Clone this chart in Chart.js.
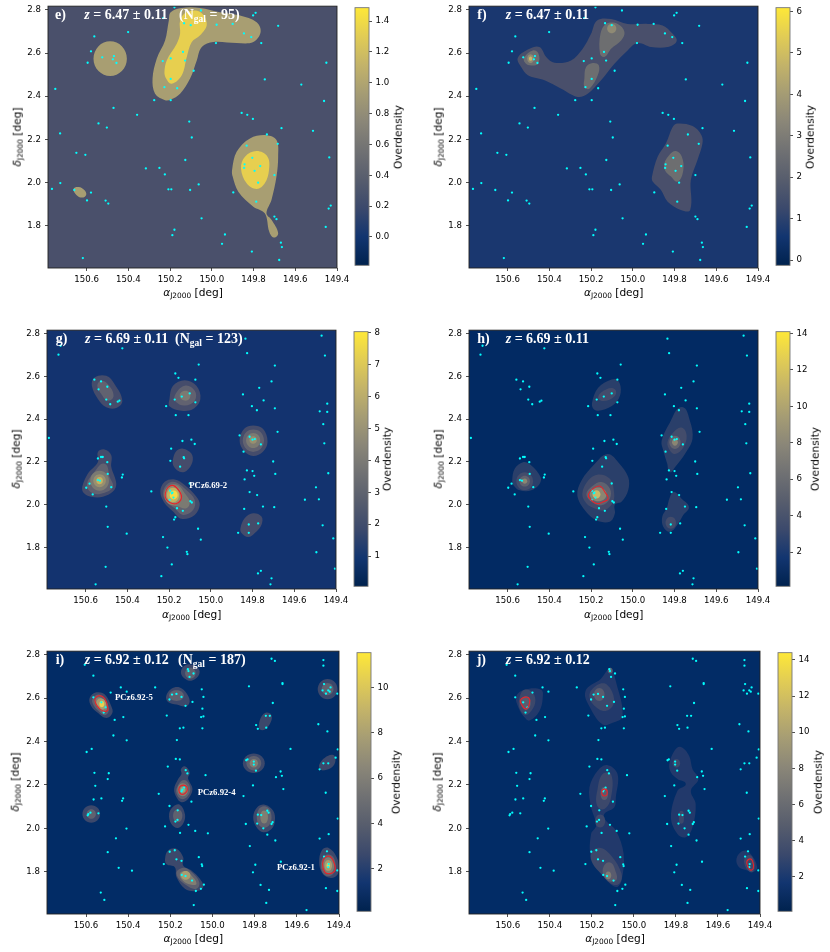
<!DOCTYPE html>
<html>
<head>
<meta charset="utf-8">
<title>Overdensity maps</title>
<script src="https://cdn.jsdelivr.net/npm/chart.js@4"></script>
<style>
  html, body { margin: 0; padding: 0; background: #fff; }
  #page { position: relative; width: 830px; height: 952px; overflow: hidden; }
  canvas { position: absolute; filter: blur(0.3px); }
  .t { position: absolute; white-space: nowrap; line-height: 1; }
  .ax { font-family: "DejaVu Sans", sans-serif; font-size: 10.6px; color: #000; transform: translate(-50%, -50%); }
  .ax sub { font-size: 7.4px; vertical-align: -2px; line-height: 0; }
  .rot { transform: translate(-50%, -50%) rotate(-90deg); }
  .head { font-family: "Liberation Serif", serif; font-weight: bold; font-size: 14px; color: #fff; transform: translateY(-50%); }
  .head sub { font-size: 9.5px; vertical-align: -3px; line-height: 0; }
  .pc { font-family: "Liberation Serif", serif; font-weight: bold; font-size: 8.7px; color: #fff; transform: translateY(-50%); }
</style>
</head>
<body>
<div id="page"></div>
<script>
// axes
const xTicks = [150.6, 150.4, 150.2, 150.0, 149.8, 149.6, 149.4];
const yTicks = [1.8, 2.0, 2.2, 2.4, 2.6, 2.8];
const xRange = [149.4, 150.785];
const yRange = [1.605, 2.817];

// galaxies [ra, dec], one list per redshift slice
const gal647 = [[150.766,1.971],[150.726,1.998],[150.727,2.228],[150.750,2.434],[150.649,2.138],[150.606,2.129],[150.659,1.966],[150.598,1.918],[150.579,1.954],[150.618,1.651],[150.509,1.917],[150.496,1.903],[150.543,2.274],[150.503,2.255],[150.471,2.346],[150.358,2.314],[150.401,2.697],[150.563,2.677],[150.579,2.608],[150.595,2.555],[150.525,2.580],[150.469,2.586],[150.474,2.571],[150.457,2.554],[150.316,2.066],[150.251,2.068],[150.225,2.038],[150.208,1.969],[150.194,1.969],[150.276,2.382],[150.197,2.382],[150.227,2.442],[150.235,2.563],[150.197,2.575],[150.197,2.480],[150.166,2.437],[150.138,2.605],[150.128,2.565],[150.087,2.518],[150.133,2.738],[150.101,2.729],[150.052,2.797],[150.179,2.812],[150.233,2.762],[149.977,2.731],[149.980,2.646],[149.900,2.735],[149.846,2.691],[149.811,2.674],[149.802,2.774],[149.790,2.786],[149.763,2.646],[149.682,2.726],[149.746,2.478],[149.571,2.454],[149.462,2.378],[149.451,2.555],[149.515,2.240],[149.666,2.252],[149.857,2.323],[149.830,2.314],[149.803,2.295],[150.108,2.283],[150.096,2.209],[150.127,2.105],[150.063,1.992],[150.104,1.966],[150.049,1.835],[150.179,1.782],[150.189,1.757],[149.951,1.717],[149.937,1.760],[149.808,1.681],[149.677,1.642],[149.669,1.722],[149.664,1.702],[149.700,1.843],[149.690,1.831],[149.454,1.795],[149.440,1.880],[149.430,1.894],[149.437,2.117],[149.736,2.223],[149.684,2.180],[149.833,2.171],[149.806,2.115],[149.843,2.085],[149.845,2.068],[149.768,2.077],[149.795,2.055],[149.700,2.035],[149.778,2.000],[149.897,1.955],[149.787,1.912]];

const gal669 = [[150.776,2.312],[150.730,2.702],[150.552,1.627],[150.504,1.709],[150.424,2.732],[149.834,2.777],[149.469,2.791],[149.453,2.698],[149.826,2.709],[150.058,2.656],[150.170,2.614],[150.155,2.594],[150.074,2.585],[149.693,2.651],[149.709,2.577],[149.768,2.547],[149.846,2.516],[149.747,2.488],[149.803,2.461],[149.779,2.442],[149.693,2.451],[149.442,2.473],[149.478,2.437],[149.442,2.434],[149.461,2.377],[149.680,2.341],[149.862,2.324],[149.814,2.318],[149.800,2.304],[149.789,2.307],[149.760,2.282],[149.843,2.248],[149.456,2.287],[149.701,2.202],[149.691,2.144],[149.827,2.160],[149.800,2.157],[149.792,2.135],[149.838,2.118],[149.437,2.147],[149.496,2.081],[149.549,2.023],[149.482,2.025],[149.814,2.059],[149.778,2.045],[149.750,1.991],[149.696,1.988],[149.840,1.980],[149.773,1.912],[149.818,1.907],[149.818,1.868],[149.869,1.868],[149.464,1.903],[149.413,1.842],[149.494,1.777],[149.405,1.700],[149.760,1.690],[149.774,1.678],[149.709,1.655],[149.714,1.627],[150.558,2.585],[150.526,2.577],[150.538,2.540],[150.496,2.552],[150.501,2.492],[150.438,2.487],[150.446,2.482],[150.482,2.470],[150.214,2.461],[150.173,2.492],[150.139,2.506],[150.101,2.521],[150.074,2.479],[150.168,2.419],[150.107,2.419],[150.136,2.298],[150.093,2.304],[150.077,2.284],[150.190,2.262],[150.194,2.205],[150.130,2.222],[150.128,2.217],[150.147,2.178],[150.541,2.216],[150.526,2.223],[150.518,2.223],[150.496,2.199],[150.541,2.115],[150.531,2.112],[150.581,2.098],[150.597,2.079],[150.566,2.048],[150.494,2.144],[150.477,2.082],[150.422,2.141],[150.426,2.127],[150.285,2.062],[150.195,2.065],[150.184,2.056],[150.187,2.053],[150.179,2.033],[150.197,2.022],[150.162,1.983],[150.134,1.971],[150.098,2.016],[150.091,2.010],[150.170,1.941],[150.176,1.930],[150.061,1.887],[150.048,1.836],[150.229,1.848],[150.208,1.799],[150.187,1.720],[150.237,1.665],[150.115,1.779],[150.112,1.768],[150.501,1.991],[150.494,1.896],[150.403,1.864],[150.101,2.099],[150.720,2.744]];

const gal692 = [[150.565,2.704],[150.565,2.604],[150.527,2.581],[150.507,2.558],[150.516,2.534],[150.483,2.626],[150.435,2.650],[150.407,2.630],[150.423,2.513],[150.464,2.500],[150.470,2.428],[150.407,2.406],[150.597,2.352],[150.573,2.366],[150.560,2.256],[150.556,2.196],[150.564,2.133],[150.527,2.138],[150.492,2.254],[150.497,2.227],[150.255,2.159],[150.424,2.138],[150.429,2.127],[150.589,2.066],[150.579,2.072],[150.592,2.060],[150.541,2.069],[150.408,1.999],[150.458,1.954],[150.497,1.890],[150.445,1.818],[150.382,1.805],[150.530,1.704],[150.513,1.670],[150.272,2.650],[150.117,2.734],[150.114,2.725],[150.090,2.714],[150.109,2.698],[150.051,2.641],[150.043,2.606],[150.095,2.583],[150.204,2.594],[150.192,2.617],[150.171,2.620],[150.147,2.606],[150.128,2.565],[150.048,2.552],[150.043,2.516],[150.054,2.513],[150.217,2.520],[150.155,2.461],[150.138,2.464],[150.048,2.461],[150.169,2.407],[150.174,2.320],[150.155,2.318],[150.212,2.285],[150.127,2.268],[150.119,2.253],[150.033,2.245],[150.135,2.188],[150.143,2.178],[150.147,2.170],[150.100,2.123],[150.204,2.103],[150.165,2.083],[150.166,2.039],[150.176,2.031],[150.225,2.009],[150.154,1.979],[150.114,2.016],[150.082,1.988],[150.022,1.977],[150.065,1.867],[150.051,1.834],[150.049,1.826],[150.231,1.835],[150.203,1.892],[150.179,1.899],[150.171,1.857],[150.147,1.850],[150.146,1.785],[150.128,1.780],[150.097,1.759],[150.079,1.711],[150.055,1.721],[150.041,1.740],[150.089,1.646],[149.827,2.655],[149.668,2.665],[149.668,2.670],[149.714,2.578],[149.747,2.519],[149.728,2.519],[149.793,2.476],[149.785,2.459],[149.745,2.464],[149.498,2.480],[149.455,2.447],[149.840,2.314],[149.834,2.318],[149.804,2.308],[149.804,2.294],[149.794,2.266],[149.853,2.149],[149.677,2.262],[149.671,2.242],[149.699,2.236],[149.664,2.181],[149.630,2.366],[149.808,2.198],[149.406,2.364],[149.416,2.326],[149.492,2.272],[149.451,2.300],[149.474,2.300],[149.463,2.164],[149.769,2.061],[149.740,2.081],[149.734,2.072],[149.785,2.063],[149.788,2.022],[149.759,2.000],[149.720,2.020],[149.715,2.028],[149.740,1.971],[149.842,2.020],[149.702,1.944],[149.823,1.918],[149.797,1.832],[149.808,1.797],[149.772,1.739],[149.732,1.716],[149.745,1.656],[149.676,1.846],[149.492,1.953],[149.449,1.973],[149.457,1.894],[149.471,1.870],[149.449,1.835],[149.451,1.821],[149.408,1.806],[149.462,1.724],[149.408,1.711],[149.554,1.623],[149.406,2.045],[149.471,2.665],[149.440,2.650],[149.451,2.636],[149.478,2.636],[149.462,2.621],[149.444,2.630],[149.408,2.621],[149.474,2.776],[149.474,2.750],[149.720,2.782],[149.704,2.772],[150.606,2.754]];

// contours [level, outline in ra/dec]
const contE = [
  [1, [[150.224,2.382],[150.272,2.412],[150.284,2.482],[150.264,2.574],[150.224,2.658],[150.206,2.751],[150.197,2.789],[150.144,2.809],[150.056,2.809],[149.961,2.789],[149.865,2.774],[149.785,2.743],[149.766,2.697],[149.801,2.651],[149.881,2.646],[149.993,2.651],[150.048,2.628],[150.072,2.566],[150.104,2.482],[150.152,2.412],[150.197,2.385]]],
  [2, [[150.227,2.512],[150.216,2.566],[150.168,2.643],[150.152,2.689],[150.152,2.751],[150.120,2.790],[150.056,2.790],[150.024,2.735],[150.056,2.682],[150.096,2.651],[150.120,2.582],[150.144,2.497],[150.192,2.458],[150.219,2.482]]],
  [1, [[150.487,2.654],[150.431,2.631],[150.407,2.574],[150.431,2.517],[150.487,2.494],[150.543,2.517],[150.567,2.574],[150.543,2.631]]],
  [1, [[150.662,1.972],[150.638,1.980],[150.611,1.966],[150.602,1.943],[150.622,1.931],[150.649,1.943]]],
  [1, [[149.903,2.058],[149.881,2.143],[149.817,2.205],[149.738,2.220],[149.690,2.197],[149.682,2.120],[149.690,2.028],[149.714,1.920],[149.738,1.858],[149.714,1.828],[149.682,1.766],[149.703,1.746],[149.725,1.774],[149.746,1.858],[149.801,1.889],[149.873,1.958],[149.900,2.028]]],
  [2, [[149.860,2.066],[149.841,2.120],[149.785,2.146],[149.733,2.120],[149.726,2.058],[149.746,1.997],[149.785,1.971],[149.833,1.997]]]
];
const contF = [
  [1, [[150.551,2.578],[150.495,2.620],[150.447,2.628],[150.415,2.582],[150.375,2.555],[150.296,2.566],[150.240,2.620],[150.200,2.689],[150.171,2.751],[150.104,2.758],[150.025,2.735],[149.929,2.735],[149.857,2.728],[149.809,2.689],[149.790,2.655],[149.833,2.628],[149.913,2.628],[149.977,2.646],[150.025,2.612],[150.088,2.551],[150.152,2.474],[150.216,2.412],[150.264,2.397],[150.343,2.435],[150.423,2.474],[150.503,2.497],[150.535,2.535]]],
  [1, [[149.908,2.028],[149.881,2.120],[149.841,2.182],[149.809,2.258],[149.785,2.274],[149.713,2.262],[149.671,2.220],[149.666,2.182],[149.690,2.105],[149.722,2.012],[149.725,1.874],[149.770,1.874],[149.833,1.912],[149.865,1.966],[149.905,2.005]]],
  [2, [[150.519,2.582],[150.479,2.612],[150.452,2.597],[150.455,2.551],[150.495,2.543],[150.519,2.558]]],
  [3, [[150.506,2.574],[150.490,2.594],[150.474,2.574],[150.490,2.554]]],
  [4, [[150.498,2.574],[150.490,2.584],[150.482,2.574],[150.490,2.564]]],
  [2, [[150.157,2.597],[150.155,2.689],[150.128,2.735],[150.072,2.735],[150.040,2.697],[150.056,2.658],[150.104,2.620],[150.136,2.582]]],
  [3, [[150.123,2.714],[150.101,2.736],[150.079,2.714],[150.101,2.692]]],
  [2, [[150.232,2.482],[150.224,2.535],[150.192,2.554],[150.163,2.543],[150.168,2.497],[150.208,2.435],[150.232,2.443]]],
  [2, [[149.849,2.089],[149.825,2.128],[149.793,2.146],[149.765,2.120],[149.758,2.058],[149.785,2.005],[149.817,2.028],[149.846,2.058]]]
];
const contG = [
  [1, [[150.570,2.557],[150.557,2.595],[150.501,2.603],[150.461,2.564],[150.424,2.487],[150.453,2.453],[150.501,2.456],[150.541,2.495]]],
  [2, [[150.544,2.557],[150.525,2.580],[150.493,2.564],[150.466,2.510],[150.493,2.487],[150.525,2.518]]],
  [1, [[150.198,2.495],[150.181,2.557],[150.125,2.583],[150.069,2.557],[150.050,2.495],[150.085,2.448],[150.141,2.440],[150.197,2.459]]],
  [2, [[150.173,2.510],[150.125,2.557],[150.077,2.533],[150.077,2.487],[150.125,2.464],[150.165,2.479]]],
  [3, [[150.149,2.510],[150.120,2.533],[150.098,2.510],[150.120,2.487]]],
  [1, [[149.862,2.300],[149.840,2.355],[149.797,2.371],[149.750,2.355],[149.728,2.295],[149.750,2.248],[149.797,2.228],[149.840,2.250]]],
  [2, [[149.847,2.300],[149.830,2.340],[149.797,2.352],[149.762,2.340],[149.745,2.300],[149.762,2.260],[149.797,2.247],[149.830,2.260]]],
  [3, [[149.831,2.300],[149.820,2.326],[149.797,2.336],[149.773,2.326],[149.763,2.300],[149.773,2.275],[149.797,2.265],[149.820,2.275]]],
  [4, [[149.815,2.303],[149.797,2.320],[149.779,2.303],[149.797,2.285]]],
  [1, [[150.616,2.084],[150.589,2.146],[150.541,2.200],[150.541,2.247],[150.509,2.258],[150.477,2.231],[150.477,2.177],[150.453,2.099],[150.469,2.061],[150.517,2.037],[150.573,2.037],[150.610,2.056]]],
  [2, [[150.594,2.092],[150.557,2.154],[150.509,2.192],[150.485,2.130],[150.469,2.084],[150.509,2.056],[150.565,2.053]]],
  [3, [[150.578,2.112],[150.533,2.159],[150.488,2.112],[150.533,2.065]]],
  [4, [[150.563,2.112],[150.533,2.142],[150.503,2.112],[150.533,2.082]]],
  [5, [[150.549,2.112],[150.533,2.129],[150.517,2.112],[150.533,2.095]]],
  [1, [[150.182,2.208],[150.165,2.251],[150.133,2.262],[150.093,2.239],[150.088,2.200],[150.117,2.158],[150.149,2.154],[150.178,2.180]]],
  [1, [[150.242,2.061],[150.221,2.107],[150.173,2.118],[150.125,2.092],[150.069,2.037],[150.053,1.999],[150.077,1.952],[150.141,1.934],[150.181,1.968],[150.221,2.006]]],
  [2, [[150.229,2.056],[150.205,2.099],[150.165,2.104],[150.117,2.068],[150.077,2.022],[150.085,1.975],[150.133,1.952],[150.173,1.983],[150.213,2.014]]],
  [3, [[150.224,2.053],[150.197,2.092],[150.157,2.092],[150.125,2.053],[150.101,2.014],[150.117,1.983],[150.157,1.991],[150.205,2.006]]],
  [4, [[150.221,2.045],[150.181,2.091],[150.141,2.045],[150.181,1.999]]],
  [5, [[150.210,2.045],[150.181,2.079],[150.152,2.045],[150.181,2.011]]],
  [6, [[150.197,2.045],[150.178,2.066],[150.159,2.045],[150.178,2.024]]],
  [1, [[149.858,1.890],[149.837,1.937],[149.797,1.960],[149.757,1.944],[149.757,1.906],[149.789,1.867],[149.821,1.848],[149.853,1.867]]]
];
const contH = [
  [1, [[150.195,2.478],[150.166,2.547],[150.102,2.586],[150.070,2.581],[150.058,2.524],[150.086,2.473],[150.150,2.442],[150.187,2.447]]],
  [2, [[150.166,2.504],[150.126,2.540],[150.086,2.540],[150.086,2.509],[150.142,2.485]]],
  [1, [[149.862,2.299],[149.822,2.385],[149.766,2.457],[149.726,2.392],[149.714,2.307],[149.750,2.237],[149.798,2.175],[149.822,2.152],[149.835,2.191],[149.854,2.253]]],
  [2, [[149.834,2.292],[149.806,2.338],[149.766,2.361],[149.742,2.323],[149.758,2.268],[149.798,2.237],[149.822,2.253]]],
  [3, [[149.825,2.292],[149.798,2.323],[149.771,2.292],[149.798,2.261]]],
  [4, [[149.812,2.292],[149.798,2.308],[149.784,2.292],[149.798,2.276]]],
  [1, [[150.578,2.113],[150.566,2.168],[150.526,2.199],[150.486,2.183],[150.442,2.129],[150.446,2.098],[150.486,2.067],[150.542,2.067],[150.571,2.090]]],
  [2, [[150.558,2.110],[150.518,2.152],[150.478,2.110],[150.518,2.068]]],
  [3, [[150.543,2.110],[150.518,2.135],[150.493,2.110],[150.518,2.085]]],
  [4, [[150.530,2.110],[150.518,2.122],[150.506,2.110],[150.518,2.098]]],
  [1, [[150.266,2.044],[150.246,2.113],[150.182,2.191],[150.122,2.237],[150.070,2.199],[150.022,2.129],[150.022,2.067],[150.054,2.013],[150.086,2.000],[150.086,1.958],[150.110,1.920],[150.174,1.927],[150.230,1.974]]],
  [2, [[150.242,2.051],[150.214,2.113],[150.166,2.141],[150.110,2.121],[150.091,2.067],[150.094,2.013],[150.134,1.974],[150.182,1.982],[150.222,2.005]]],
  [3, [[150.222,2.051],[150.190,2.090],[150.150,2.106],[150.110,2.075],[150.110,2.028],[150.150,1.997],[150.198,2.013]]],
  [4, [[150.206,2.048],[150.166,2.080],[150.126,2.048],[150.166,2.016]]],
  [5, [[150.193,2.048],[150.174,2.067],[150.155,2.048],[150.174,2.029]]],
  [1, [[149.859,1.943],[149.838,1.982],[149.822,2.036],[149.802,2.059],[149.766,2.028],[149.731,1.989],[149.758,1.951],[149.782,1.912],[149.822,1.873],[149.854,1.896]]],
  [2, [[149.843,1.915],[149.818,1.943],[149.793,1.915],[149.818,1.887]]]
];
const contI = [
  [1, [[150.583,2.601],[150.551,2.627],[150.511,2.617],[150.480,2.563],[150.475,2.532],[150.503,2.509],[150.543,2.532],[150.575,2.563]]],
  [2, [[150.570,2.594],[150.543,2.617],[150.511,2.598],[150.491,2.548],[150.511,2.522],[150.543,2.543],[150.564,2.568]]],
  [3, [[150.559,2.589],[150.540,2.604],[150.516,2.589],[150.500,2.551],[150.519,2.537],[150.540,2.555],[150.554,2.571]]],
  [4, [[150.551,2.575],[150.530,2.600],[150.503,2.570],[150.525,2.548]]],
  [5, [[150.537,2.573],[150.525,2.588],[150.513,2.573],[150.525,2.558]]],
  [1, [[150.150,2.720],[150.131,2.751],[150.095,2.754],[150.063,2.731],[150.068,2.701],[150.100,2.681],[150.131,2.690]]],
  [2, [[150.130,2.715],[150.105,2.740],[150.080,2.715],[150.105,2.690]]],
  [1, [[150.220,2.609],[150.195,2.644],[150.155,2.650],[150.124,2.624],[150.108,2.586],[150.124,2.563],[150.171,2.571],[150.211,2.583]]],
  [2, [[150.206,2.612],[150.171,2.637],[150.136,2.612],[150.171,2.587]]],
  [1, [[149.780,2.479],[149.767,2.517],[149.744,2.534],[149.720,2.522],[149.725,2.487],[149.751,2.456],[149.775,2.456]]],
  [1, [[149.501,2.642],[149.454,2.689],[149.407,2.642],[149.454,2.595]]],
  [2, [[149.482,2.642],[149.454,2.670],[149.426,2.642],[149.454,2.614]]],
  [1, [[149.493,2.295],[149.467,2.326],[149.427,2.338],[149.417,2.311],[149.435,2.280],[149.467,2.268],[149.490,2.272]]],
  [1, [[149.856,2.300],[149.804,2.345],[149.752,2.300],[149.804,2.255]]],
  [2, [[149.839,2.300],[149.804,2.333],[149.769,2.300],[149.804,2.267]]],
  [3, [[149.824,2.300],[149.804,2.320],[149.784,2.300],[149.804,2.280]]],
  [1, [[150.182,2.181],[150.163,2.227],[150.147,2.250],[150.150,2.272],[150.131,2.286],[150.108,2.257],[150.116,2.231],[150.095,2.181],[150.116,2.135],[150.147,2.120],[150.171,2.143]]],
  [2, [[150.171,2.181],[150.147,2.219],[150.124,2.219],[150.105,2.181],[150.120,2.146],[150.147,2.135],[150.168,2.155]]],
  [3, [[150.166,2.178],[150.141,2.208],[150.116,2.178],[150.141,2.148]]],
  [4, [[150.153,2.178],[150.141,2.192],[150.129,2.178],[150.141,2.164]]],
  [1, [[150.617,2.066],[150.575,2.106],[150.533,2.066],[150.575,2.026]]],
  [2, [[150.597,2.066],[150.575,2.088],[150.553,2.066],[150.575,2.044]]],
  [1, [[150.206,2.066],[150.187,2.100],[150.155,2.109],[150.131,2.066],[150.136,2.028],[150.163,2.002],[150.195,2.020]]],
  [2, [[150.187,2.058],[150.165,2.088],[150.143,2.058],[150.165,2.028]]],
  [1, [[149.807,2.051],[149.788,2.097],[149.752,2.109],[149.712,2.081],[149.704,2.035],[149.720,1.997],[149.759,1.982],[149.791,2.005]]],
  [2, [[149.790,2.052],[149.755,2.102],[149.720,2.052],[149.755,2.002]]],
  [3, [[149.773,2.052],[149.755,2.082],[149.737,2.052],[149.755,2.022]]],
  [1, [[150.225,1.860],[150.211,1.898],[150.171,1.906],[150.139,1.867],[150.139,1.829],[150.100,1.806],[150.060,1.768],[150.044,1.730],[150.076,1.711],[150.131,1.722],[150.171,1.776],[150.179,1.821],[150.218,1.834]]],
  [2, [[150.171,1.791],[150.139,1.818],[150.100,1.799],[150.063,1.753],[150.076,1.722],[150.124,1.737]]],
  [3, [[150.155,1.791],[150.131,1.803],[150.100,1.783],[150.076,1.745],[150.100,1.740],[150.139,1.757]]],
  [4, [[150.149,1.783],[150.127,1.803],[150.105,1.783],[150.127,1.763]]],
  [1, [[149.494,1.844],[149.482,1.898],[149.451,1.910],[149.411,1.867],[149.400,1.806],[149.419,1.776],[149.451,1.773],[149.482,1.798]]],
  [2, [[149.486,1.829],[149.451,1.879],[149.416,1.829],[149.451,1.779]]],
  [3, [[149.479,1.829],[149.451,1.867],[149.423,1.829],[149.451,1.791]]],
  [4, [[149.469,1.829],[149.451,1.854],[149.433,1.829],[149.451,1.804]]],
  [5, [[149.459,1.829],[149.451,1.841],[149.443,1.829],[149.451,1.817]]]
];
const contJ = [
  [1, [[150.560,2.609],[150.521,2.639],[150.442,2.639],[150.434,2.601],[150.450,2.540],[150.497,2.497],[150.521,2.512],[150.549,2.555]]],
  [2, [[150.545,2.601],[150.521,2.639],[150.481,2.625],[150.470,2.578],[150.497,2.532],[150.521,2.524],[150.545,2.555]]],
  [3, [[150.541,2.586],[150.518,2.609],[150.497,2.598],[150.494,2.563],[150.518,2.547]]],
  [1, [[150.231,2.632],[150.157,2.690],[150.125,2.731],[150.109,2.739],[150.086,2.678],[150.054,2.517],[150.101,2.487],[150.149,2.479],[150.204,2.548]]],
  [2, [[150.212,2.609],[150.173,2.662],[150.128,2.662],[150.094,2.594],[150.117,2.548],[150.165,2.548]]],
  [3, [[150.190,2.617],[150.165,2.647],[150.140,2.617],[150.165,2.587]]],
  [3, [[150.125,2.727],[150.113,2.740],[150.101,2.727],[150.113,2.714]]],
  [1, [[150.212,2.188],[150.173,2.265],[150.128,2.292],[150.078,2.250],[150.086,2.143],[150.093,2.097],[150.141,2.066],[150.133,2.035],[150.086,1.990],[150.049,1.883],[150.059,1.760],[150.086,1.730],[150.141,1.776],[150.204,1.867],[150.204,1.974],[150.180,2.013],[150.204,2.097]]],
  [2, [[150.173,2.181],[150.149,2.250],[150.109,2.250],[150.109,2.143],[150.141,2.089],[150.176,2.107]]],
  [3, [[150.159,2.161],[150.141,2.191],[150.123,2.161],[150.141,2.131]]],
  [2, [[150.185,2.034],[150.161,2.064],[150.137,2.034],[150.161,2.004]]],
  [2, [[150.204,1.883],[150.165,1.910],[150.109,1.875],[150.059,1.791],[150.070,1.745],[150.109,1.745],[150.157,1.791],[150.196,1.837]]],
  [3, [[150.149,1.806],[150.117,1.844],[150.086,1.798],[150.086,1.760],[150.125,1.760]]],
  [4, [[150.136,1.783],[150.122,1.801],[150.108,1.783],[150.122,1.765]]],
  [1, [[149.832,2.295],[149.808,2.357],[149.777,2.375],[149.737,2.334],[149.721,2.272],[149.693,2.227],[149.729,2.173],[149.706,2.112],[149.721,2.005],[149.753,1.959],[149.793,1.974],[149.824,2.051],[149.793,2.173],[149.753,2.204],[149.793,2.227],[149.824,2.257]]],
  [2, [[149.816,2.300],[149.798,2.320],[149.780,2.300],[149.798,2.280]]],
  [2, [[149.786,2.051],[149.774,2.081],[149.762,2.051],[149.774,2.021]]],
  [1, [[149.512,1.860],[149.484,1.895],[149.452,1.891],[149.413,1.821],[149.436,1.798],[149.460,1.806],[149.500,1.821]]],
  [2, [[149.476,1.844],[149.460,1.875],[149.436,1.867],[149.425,1.821],[149.444,1.798]]]
];

// red rings round the protoclusters
const ringG = [[[150.218,2.053],[150.205,2.081],[150.178,2.089],[150.149,2.061],[150.141,2.030],[150.165,2.005],[150.197,2.010],[150.216,2.030]]];
const ringH = [[[150.213,2.048],[150.190,2.075],[150.158,2.087],[150.134,2.059],[150.118,2.028],[150.142,2.013],[150.174,2.005],[150.206,2.028]]];
const ringI = [
  [[150.556,2.601],[150.535,2.612],[150.511,2.598],[150.496,2.555],[150.503,2.540],[150.527,2.545],[150.548,2.566],[150.557,2.586]],
  [[150.160,2.178],[150.150,2.196],[150.127,2.196],[150.119,2.178],[150.131,2.161],[150.150,2.158]],
  [[149.478,1.837],[149.467,1.865],[149.443,1.870],[149.422,1.837],[149.419,1.806],[149.443,1.791],[149.467,1.798]]
];
const ringJ = [
  [[150.541,2.589],[150.524,2.604],[150.500,2.601],[150.497,2.578],[150.513,2.550],[150.534,2.570]],
  [[150.153,2.165],[150.140,2.181],[150.127,2.165],[150.140,2.149]],
  [[149.463,1.840],[149.452,1.858],[149.436,1.850],[149.432,1.815],[149.448,1.809]]
];

// colourbar ticks and limits
const cbE = { range: [-0.184, 1.487], ticks: [0, 0.2, 0.4, 0.6, 0.8, 1.0, 1.2, 1.4], digits: 1 };
const cbF = { range: [-0.126, 6.09], ticks: [0, 1, 2, 3, 4, 5, 6], digits: 0 };
const cbG = { range: [0.05, 8.04], ticks: [1, 2, 3, 4, 5, 6, 7, 8], digits: 0 };
const cbH = { range: [0.12, 14.1], ticks: [2, 4, 6, 8, 10, 12, 14], digits: 0 };
const cbI = { range: [0.11, 11.54], ticks: [2, 4, 6, 8, 10], digits: 0 };
const cbJ = { range: [0.08, 14.4], ticks: [2, 4, 6, 8, 10, 12, 14], digits: 0 };

const cividis = ['#00224e', '#123570', '#3b496c', '#575d6d', '#707173', '#8a8678', '#a59c74', '#c3b369', '#e1cc55', '#fee838'];

const panels = [
  { tag: 'e)', z: '6.47 ± 0.11', n: '95', nX: 179, gal: gal647, cont: contE, rings: [], cb: cbE,
    colors: ['#4a506b', '#a89e72', '#e7cf4f'],
    box: [48.3, 5.3, 289, 263], cbBox: [355.3, 5.3, 14], tagX: 55, zX: 84.3, headY: 15, xl: [193, 292], yl: [17, 137], cl: [397.7, 137] },
  { tag: 'f)', z: '6.47 ± 0.11', gal: gal647, cont: contF, rings: [], cb: cbF,
    colors: ['#1a376f', '#494f6b', '#6d6e70', '#8f8a74', '#c8b566'],
    box: [469, 5.3, 289.3, 263], cbBox: [776.3, 5.3, 14], tagX: 477.3, zX: 505.7, headY: 15, xl: [613.7, 292], yl: [438.3, 137], cl: [810, 137] },
  { tag: 'g)', z: '6.69 ± 0.11', n: '123', nX: 175, gal: gal669, cont: contG, rings: ringG, cb: cbG,
    colors: ['#13336f', '#454c6b', '#616270', '#7b7a72', '#98906f', '#c5b25f', '#f5dc42'],
    box: [46.7, 329.3, 289.3, 260], cbBox: [354, 329.3, 13.5], tagX: 55.7, zX: 85, headY: 339, xl: [191.7, 614], yl: [16, 459], cl: [387.3, 459] },
  { tag: 'h)', z: '6.69 ± 0.11', gal: gal669, cont: contH, rings: ringH, cb: cbH,
    colors: ['#022a63', '#2a3f6a', '#434c6b', '#60626f', '#8a8673', '#c8b868'],
    box: [469, 329.1, 289.3, 260.2], cbBox: [775.7, 329.1, 13.5], tagX: 477.3, zX: 505.7, headY: 338.5, xl: [613.7, 614], yl: [437.7, 459], cl: [815, 459] },
  { tag: 'i)', z: '6.92 ± 0.12', n: '187', nX: 178, gal: gal692, cont: contI, rings: ringI, cb: cbI,
    colors: ['#022c66', '#3c486b', '#5f616f', '#807e72', '#a89d70', '#e8d050'],
    box: [47.3, 649.7, 291.7, 264.3], cbBox: [356.7, 649.7, 14], tagX: 55.7, zX: 84.7, headY: 660, xl: [193.3, 938.3], yl: [15, 781.7], cl: [396, 781.7] },
  { tag: 'j)', z: '6.92 ± 0.12', gal: gal692, cont: contJ, rings: ringJ, cb: cbJ,
    colors: ['#022c66', '#22396b', '#3c486b', '#5a5c6e', '#7c7a72'],
    box: [469.3, 649.7, 291, 264.3], cbBox: [778.3, 649.7, 14], tagX: 476.7, zX: 505.7, headY: 660, xl: [615, 938.3], yl: [436.7, 781.7], cl: [818.3, 781.7] }
];

// protocluster names [text, left, centre y]
const pcLabels = [
  ['PCz6.69-2', 189.3, 485],
  ['PCz6.92-5', 115, 697.3],
  ['PCz6.92-4', 197.7, 792],
  ['PCz6.92-1', 277, 866.7]
];

const page = document.getElementById('page');

function addText(html, x, y, cls) {
  const d = document.createElement('div');
  d.className = 't ' + cls;
  d.style.left = x + 'px';
  d.style.top = y + 'px';
  d.innerHTML = html;
  page.appendChild(d);
}

function addCanvas(left, top, w, h) {
  const c = document.createElement('canvas');
  c.width = w;
  c.height = h;
  c.style.left = left + 'px';
  c.style.top = top + 'px';
  c.style.width = w + 'px';
  c.style.height = h + 'px';
  page.appendChild(c);
  return c;
}

// closed smooth path through the points the library has placed
function tracePath(ctx, pts) {
  const n = pts.length;
  const a = 2 * Math.PI / n;
  const k = (4 / 3) * Math.tan(a / 4) / (2 * Math.sin(a / 2));
  const unit = (p, q) => {
    const dx = q.x - p.x, dy = q.y - p.y, len = Math.hypot(dx, dy) || 1;
    return { x: dx / len, y: dy / len };
  };
  ctx.beginPath();
  ctx.moveTo(pts[0].x, pts[0].y);
  for (let i = 0; i < n; i++) {
    const p0 = pts[(i - 1 + n) % n], p1 = pts[i], p2 = pts[(i + 1) % n], p3 = pts[(i + 2) % n];
    const len = Math.hypot(p2.x - p1.x, p2.y - p1.y) * k;
    const t1 = unit(p0, p2), t2 = unit(p1, p3);
    ctx.bezierCurveTo(
      p1.x + t1.x * len, p1.y + t1.y * len,
      p2.x - t2.x * len, p2.y - t2.y * len,
      p2.x, p2.y);
  }
  ctx.closePath();
}

const skyPlugin = {
  id: 'sky',
  beforeDatasetsDraw(chart, args, opts) {
    const { ctx, chartArea: a } = chart;
    ctx.save();
    ctx.fillStyle = opts.background;
    ctx.fillRect(a.left, a.top, a.width, a.height);
    ctx.beginPath();
    ctx.rect(a.left, a.top, a.width, a.height);
    ctx.clip();
    chart.data.datasets.forEach((ds, i) => {
      if (!ds.contourFill) return;
      tracePath(ctx, chart.getDatasetMeta(i).data);
      ctx.fillStyle = ds.contourFill;
      ctx.fill();
    });
    ctx.restore();
  },
  afterDatasetsDraw(chart) {
    const { ctx, chartArea: a } = chart;
    ctx.save();
    ctx.beginPath();
    ctx.rect(a.left, a.top, a.width, a.height);
    ctx.clip();
    chart.data.datasets.forEach((ds, i) => {
      if (!ds.ring) return;
      tracePath(ctx, chart.getDatasetMeta(i).data);
      ctx.strokeStyle = '#e8232a';
      ctx.lineWidth = 1.1;
      ctx.stroke();
    });
    ctx.restore();
  }
};

const framePlugin = {
  id: 'frame',
  afterDraw(chart, args, opts) {
    const { ctx, chartArea: a } = chart;
    ctx.save();
    ctx.strokeStyle = opts.color;
    ctx.lineWidth = 0.9;
    ctx.strokeRect(a.left, a.top, a.width, a.height);
    ctx.restore();
  }
};

function tickFont() {
  return { family: '"DejaVu Sans", sans-serif', size: 8.6 };
}

function drawPanel(p) {
  const [l, t, w, h] = p.box;
  const gutter = 40, top = 8, right = 20, foot = 20;
  const cv = addCanvas(l - gutter, t - top, Math.round(w) + gutter + right, Math.round(h) + top + foot);

  const datasets = [];
  p.cont.forEach(([level, outline]) => {
    datasets.push({
      data: outline.map(([x, y]) => ({ x, y })),
      contourFill: p.colors[level],
      showLine: false,
      pointRadius: 0
    });
  });
  p.rings.forEach(outline => {
    datasets.push({
      data: outline.map(([x, y]) => ({ x, y })),
      ring: true,
      showLine: false,
      pointRadius: 0
    });
  });
  datasets.push({
    label: 'galaxies',
    data: p.gal.map(([x, y]) => ({ x, y })),
    backgroundColor: '#00ffff',
    borderWidth: 0,
    pointRadius: 1.15,
    order: -1
  });

  new Chart(cv, {
    type: 'scatter',
    data: { datasets },
    plugins: [skyPlugin, framePlugin],
    options: {
      responsive: false,
      animation: false,
      events: [],
      layout: { padding: { left: 0, top, right, bottom: 0 } },
      plugins: {
        legend: { display: false },
        tooltip: { enabled: false },
        sky: { background: p.colors[0] },
        frame: { color: '#222' }
      },
      scales: {
        x: {
          type: 'linear', reverse: true, min: xRange[0], max: xRange[1],
          afterBuildTicks: s => { s.ticks = xTicks.map(value => ({ value })); },
          afterFit: s => { s.height = foot; },
          ticks: { font: tickFont(), color: '#000', padding: 4, maxRotation: 0, autoSkip: false, callback: v => v.toFixed(1) },
          grid: { drawOnChartArea: false, tickLength: 3, tickColor: '#222', tickWidth: 0.8 },
          border: { display: false }
        },
        y: {
          type: 'linear', min: yRange[0], max: yRange[1],
          afterBuildTicks: s => { s.ticks = yTicks.map(value => ({ value })); },
          afterFit: s => { s.width = gutter; },
          ticks: { font: tickFont(), color: '#000', padding: 4, autoSkip: false, callback: v => v.toFixed(1) },
          grid: { drawOnChartArea: false, tickLength: 3, tickColor: '#222', tickWidth: 0.8 },
          border: { display: false }
        }
      }
    }
  });
}

function drawColorbar(p) {
  const [l, t, w] = p.cbBox;
  const h = p.box[3];
  const pad = 6, gutter = 30;
  const cv = addCanvas(l - 2, t - pad, Math.round(w) + 2 + gutter, Math.round(h) + 2 * pad);

  new Chart(cv, {
    type: 'bar',
    data: {
      labels: ['Overdensity'],
      datasets: [{
        data: [p.cb.range],
        categoryPercentage: 1,
        barPercentage: 1,
        borderWidth: 0,
        backgroundColor: c => {
          const a = c.chart.chartArea;
          if (!a) return cividis[0];
          const g = c.chart.ctx.createLinearGradient(0, a.bottom, 0, a.top);
          cividis.forEach((col, i) => g.addColorStop(i / (cividis.length - 1), col));
          return g;
        }
      }]
    },
    plugins: [framePlugin],
    options: {
      responsive: false,
      animation: false,
      events: [],
      layout: { padding: { left: 2, top: pad, right: 0, bottom: pad } },
      plugins: {
        legend: { display: false },
        tooltip: { enabled: false },
        frame: { color: '#777' }
      },
      scales: {
        x: { display: false },
        y: {
          position: 'right', min: p.cb.range[0], max: p.cb.range[1],
          afterBuildTicks: s => { s.ticks = p.cb.ticks.map(value => ({ value })); },
          afterFit: s => { s.width = gutter; },
          ticks: { font: tickFont(), color: '#000', padding: 3.5, autoSkip: false, callback: v => v.toFixed(p.cb.digits) },
          grid: { drawOnChartArea: false, tickLength: 3, tickColor: '#222', tickWidth: 0.8 },
          border: { display: false }
        }
      }
    }
  });
}

panels.forEach(p => {
  drawPanel(p);
  drawColorbar(p);
  addText(p.tag, p.tagX, p.headY, 'head');
  addText('<i>z</i> = ' + p.z, p.zX, p.headY, 'head');
  if (p.n) addText('(N<sub>gal</sub> = ' + p.n + ')', p.nX, p.headY, 'head');
  addText('<i>α</i><sub>J2000</sub> [deg]', p.xl[0], p.xl[1], 'ax');
  addText('<i>δ</i><sub>J2000</sub> [deg]', p.yl[0], p.yl[1], 'ax rot');
  addText('Overdensity', p.cl[0], p.cl[1], 'ax rot');
});
pcLabels.forEach(([text, x, y]) => addText(text, x, y, 'pc'));
</script>
</body>
</html>
